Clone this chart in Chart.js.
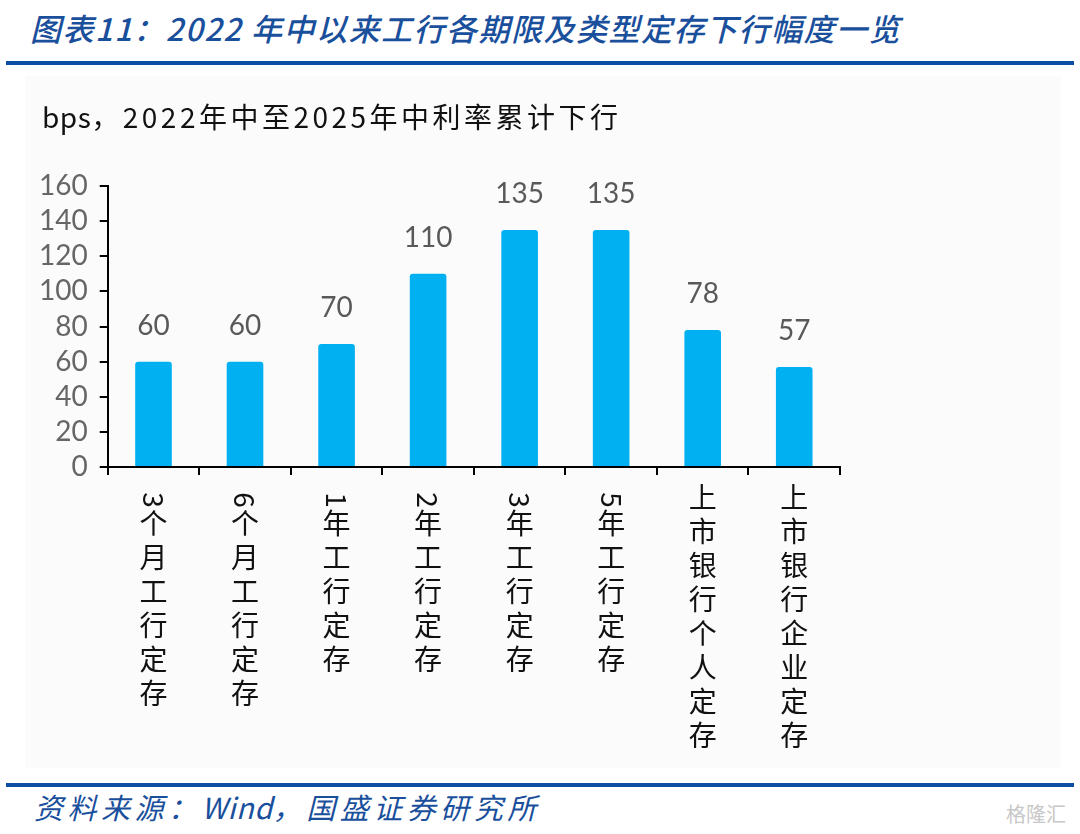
<!DOCTYPE html>
<html>
<head>
<meta charset="utf-8">
<script src="https://cdn.jsdelivr.net/npm/chart.js@4.4.1/dist/chart.umd.min.js"></script>
<style>
  body { margin: 0; background: #fff; width: 1080px; height: 834px; position: relative; overflow: hidden; }
  .title { position: absolute; left: 30px; top: 5px; font-family: "Noto Sans CJK SC", sans-serif; font-style: italic; font-weight: 500; font-size: 31px; letter-spacing: 1.5px; color: #1a4f9c; white-space: nowrap; }
  .rule { position: absolute; left: 6px; width: 1068px; height: 4px; background: #0d4ea3; }
  .box { position: absolute; left: 25px; top: 76px; width: 1036px; height: 692px; background: #fbfbfb; }
  .sub { position: absolute; left: 42px; top: 96px; font-family: "Noto Sans CJK SC", sans-serif; font-size: 28px; letter-spacing: 3.5px; color: #111; white-space: nowrap; }
  .source { position: absolute; left: 34px; top: 785px; font-family: "Noto Sans CJK SC", sans-serif; font-style: italic; font-size: 29px; letter-spacing: 4.5px; color: #1a4f9c; white-space: nowrap; }
  .tight { letter-spacing: 0.5px; }
  .mark { position: absolute; right: 14px; top: 799px; font-family: "Noto Sans CJK SC", sans-serif; font-size: 20px; color: #c8c8c8; }
</style>
</head>
<body>
<div class="title">图表11：2022 年中以来工行各期限及类型定存下行幅度一览</div>
<div class="rule" style="top:61px"></div>
<div class="box"><canvas id="chart"></canvas></div>
<div class="sub"><span class="tight">bps</span>，2022年中至2025年中利率累计下行</div>
<div class="rule" style="top:783px"></div>
<div class="source">资料来源：<span class="tight">Wind</span>，国盛证券研究所</div>
<div class="mark">格隆汇</div>
<script>
// 2022年中至2025年中利率累计下行 (bps)
const categories = ['3个月工行定存', '6个月工行定存', '1年工行定存', '2年工行定存', '3年工行定存', '5年工行定存', '上市银行个人定存', '上市银行企业定存'];
const values = [60, 60, 70, 110, 135, 135, 78, 57];
const yTicks = [0, 20, 40, 60, 80, 100, 120, 140, 160];

const numFont = 'Lato, "Noto Sans", sans-serif';
const cjkFont = '"Noto Sans CJK SC", sans-serif';
const labelSize = 28;
const labelStep = 34;
const digitStep = 20;

// 竖排：每个字一行
const verticalLabels = categories.map(c => Array.from(c));

const valueLabels = {
  id: 'valueLabels',
  afterDatasetsDraw(chart) {
    const ctx = chart.ctx;
    const meta = chart.getDatasetMeta(0);
    ctx.save();
    ctx.font = '28px ' + numFont;
    ctx.fillStyle = '#595959';
    ctx.textAlign = 'center';
    ctx.textBaseline = 'bottom';
    meta.data.forEach((bar, i) => {
      ctx.fillText(values[i], bar.x, bar.y - 22);
    });
    ctx.restore();
  }
};

// 竖排分类标签，数字顺时针旋转
const verticalText = {
  id: 'verticalText',
  afterDraw(chart) {
    const ctx = chart.ctx;
    const xs = chart.scales.x;
    ctx.save();
    ctx.font = labelSize + 'px ' + cjkFont;
    ctx.fillStyle = '#111';
    ctx.textAlign = 'center';
    ctx.textBaseline = 'middle';
    verticalLabels.forEach((chars, i) => {
      const x = xs.getPixelForTick(i);
      let y = chart.chartArea.bottom + 13;
      chars.forEach(ch => {
        if (/[0-9A-Za-z]/.test(ch)) {
          ctx.save();
          ctx.translate(x, y + 10 + digitStep / 2);
          ctx.rotate(Math.PI / 2);
          ctx.fillText(ch, 0, 0);
          ctx.restore();
          y += digitStep + 6;
        } else {
          ctx.fillText(ch, x, y + labelStep / 2);
          y += labelStep;
        }
      });
    });
    ctx.restore();
  }
};

const ctx = document.getElementById('chart').getContext('2d');
new Chart(ctx, {
  type: 'bar',
  data: {
    labels: categories,
    datasets: [{
      data: values,
      backgroundColor: '#00b0f0',
      borderRadius: 3,
      borderSkipped: 'bottom',
      barPercentage: 0.40,
      categoryPercentage: 1
    }]
  },
  options: {
    responsive: true,
    maintainAspectRatio: false,
    animation: false,
    layout: { padding: { left: 2, right: 221, top: 110, bottom: 293 } },
    plugins: {
      legend: { display: false },
      tooltip: { enabled: false }
    },
    scales: {
      y: {
        min: 0,
        max: 160,
        afterBuildTicks(axis) { axis.ticks = yTicks.map(v => ({ value: v })); },
        border: { color: '#000', width: 2 },
        grid: { drawOnChartArea: false, drawTicks: true, tickLength: 8, color: '#000', lineWidth: 2 },
        ticks: { color: '#666', font: { family: numFont, size: 28 }, padding: 12, autoSkip: false }
      },
      x: {
        border: { color: '#000', width: 2 },
        grid: { drawOnChartArea: false, drawTicks: true, tickLength: 8, color: '#000', lineWidth: 2, offset: true },
        ticks: { display: false }
      }
    }
  },
  plugins: [valueLabels, verticalText]
});
</script>
</body>
</html>
